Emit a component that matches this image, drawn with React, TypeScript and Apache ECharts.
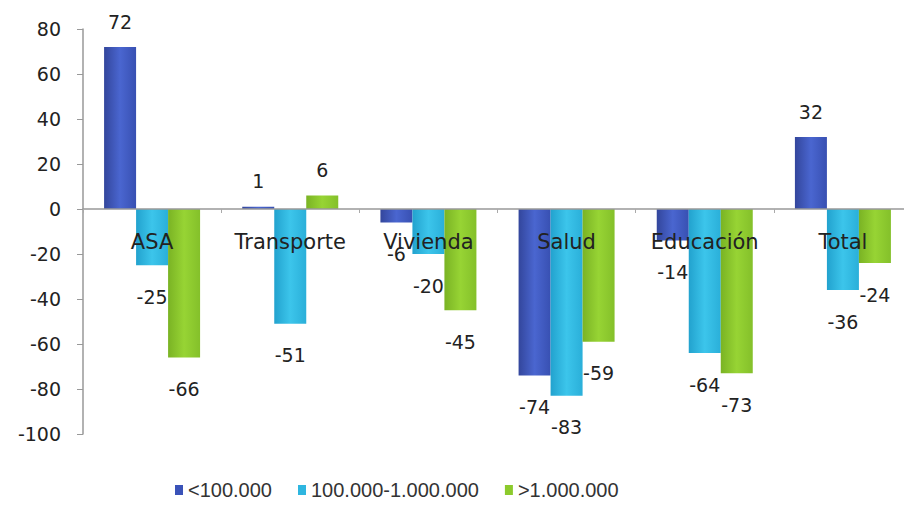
import React, { useEffect, useRef } from "react";
import * as echarts from "echarts";

const categories = ["ASA", "Transporte", "Vivienda", "Salud", "Educación", "Total"];
const seriesNames = ["<100.000", "100.000-1.000.000", ">1.000.000"];
const small = [72, 1, -6, -74, -14, 32];
const medium = [-25, -51, -20, -83, -64, -36];
const large = [-66, 6, -45, -59, -73, -24];
const yMin = -100;
const yMax = 80;
const yStep = 20;

const grad = (a: string, b: string, c: string) =>
  new echarts.graphic.LinearGradient(0, 0, 1, 0, [
    { offset: 0, color: a },
    { offset: 0.5, color: b },
    { offset: 1, color: c },
  ]);

export default function App() {
  const ref = useRef<HTMLDivElement>(null);
  useEffect(() => {
    if (!ref.current) return;
    const chart = echarts.init(ref.current, undefined, { renderer: "svg" });
    const labelFont = "DejaVu Sans";
    const gridH = 405;
    const zeroOffset = (gridH * (0 - yMin)) / (yMax - yMin);
    const mkLabel = () => ({
      show: true,
      fontFamily: labelFont,
      fontSize: 19,
      color: "#222",
      position: "top" as const,
      distance: 16,
    });
    const mkData = (vals: number[]) =>
      vals.map((v) => ({
        value: v,
        label: v < 0 ? { position: "bottom", distance: 22 } : { position: "top", distance: 16 },
      }));
    const colors = [
      grad("#33469C", "#4A66D0", "#3850B2"),
      grad("#22A2CE", "#3CC5EB", "#2AAFD9"),
      grad("#7AB324", "#97D434", "#84C02A"),
    ];
    const solid = ["#3A52B8", "#2EB6E0", "#8CCA2C"];
    const vals = [small, medium, large];
    chart.setOption({
      animation: false,
      grid: { left: 75, top: 21, width: 833, height: gridH, containLabel: false },
      legend: {
        left: 162,
        top: 467,
        itemWidth: 8,
        itemHeight: 10,
        itemGap: 26,
        icon: "rect",
        textStyle: { fontFamily: "Liberation Sans", fontSize: 20, color: "#333" },
        data: seriesNames.map((n, i) => ({ name: n, itemStyle: { color: solid[i] } })),
      },
      xAxis: {
        type: "category",
        data: categories,
        position: "bottom",
        offset: -zeroOffset,
        z: 10,
        axisLine: { onZero: false, lineStyle: { color: "#999", width: 1.5 } },
        axisTick: { show: true, length: 4, lineStyle: { color: "#aaa" } },
        axisLabel: { interval: 0, fontFamily: labelFont, fontSize: 21, color: "#222", margin: 22 },
      },
      yAxis: {
        type: "value",
        min: yMin,
        max: yMax,
        interval: yStep,
        splitLine: { show: false },
        axisLine: { show: true, lineStyle: { color: "#999", width: 1.5 } },
        axisTick: { show: true, length: 6, lineStyle: { color: "#999" } },
        axisLabel: { fontFamily: labelFont, fontSize: 19, color: "#222", margin: 22 },
      },
      series: seriesNames.map((n, i) => ({
        name: n,
        type: "bar",
        barWidth: 32,
        barGap: "0%",
        itemStyle: { color: colors[i] },
        label: mkLabel(),
        data: mkData(vals[i]),
      })),
    });
    return () => chart.dispose();
  }, []);
  return <div ref={ref} style={{ width: 904, height: 504 }} />;
}
